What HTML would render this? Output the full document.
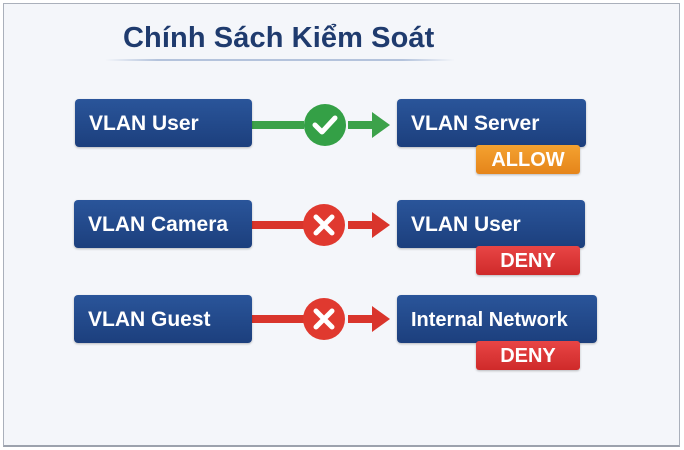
<!DOCTYPE html>
<html><head><meta charset="utf-8"><style>
body{margin:0;width:684px;height:450px;background:#fff;position:relative;overflow:hidden;font-family:"Liberation Sans",sans-serif}
.frame{position:absolute;left:3px;top:3px;width:675px;height:441px;border:1px solid #aab0bb;border-bottom:2px solid #9ca2ad;background:#f4f6fa}
.title{position:absolute;left:123px;top:22px;font-size:29px;font-weight:bold;color:#1f3b6e;letter-spacing:0.1px}
.ul{position:absolute;left:105px;top:59px;width:350px;height:2px;background:linear-gradient(90deg,rgba(180,195,220,0),#b4c3dc 15%,#b4c3dc 85%,rgba(180,195,220,0))}
.box{position:absolute;height:48px;border-radius:4px;background:linear-gradient(#2a559a,#1c3f7d);color:#fff;font-weight:bold;font-size:21px;line-height:50px;padding-left:14px;box-sizing:border-box;box-shadow:0 1px 2px rgba(0,0,0,.25)}
.badge{position:absolute;width:104px;height:29px;border-radius:3px;color:#fff;font-weight:bold;font-size:20px;line-height:30px;text-align:center;box-shadow:0 1px 2px rgba(0,0,0,.25)}
.allow{background:linear-gradient(#f4a230,#e5851a)}
.deny{background:linear-gradient(#e84545,#cf2a2a)}
svg{position:absolute;left:0;top:0}
</style></head><body>
<div class="frame"></div>
<div class="title">Chính Sách Kiểm Soát</div>
<div class="ul"></div>
<svg width="684" height="450">
 <g>
  <rect x="252" y="121" width="52" height="8" fill="#3ca24a"/>
  <rect x="348" y="121" width="25" height="8" fill="#3ca24a"/>
  <polygon points="372,112 390,125 372,138" fill="#3ca24a"/>
  <circle cx="325" cy="125" r="21" fill="#34a046"/>
  <polyline points="315,125 322,132 335,118" fill="none" stroke="#fff" stroke-width="5" stroke-linecap="round" stroke-linejoin="round"/>
 </g>
 <g>
  <rect x="252" y="221" width="52" height="8" fill="#d9352c"/>
  <rect x="348" y="221" width="25" height="8" fill="#d9352c"/>
  <polygon points="372,212 390,225 372,238" fill="#d9352c"/>
  <circle cx="324" cy="225" r="21" fill="#e0392f"/>
  <path d="M316,217 L332,233 M332,217 L316,233" stroke="#fff" stroke-width="5" stroke-linecap="round"/>
 </g>
 <g>
  <rect x="252" y="315" width="52" height="8" fill="#d9352c"/>
  <rect x="348" y="315" width="25" height="8" fill="#d9352c"/>
  <polygon points="372,306 390,319 372,332" fill="#d9352c"/>
  <circle cx="324" cy="319" r="21" fill="#e0392f"/>
  <path d="M316,311 L332,327 M332,311 L316,327" stroke="#fff" stroke-width="5" stroke-linecap="round"/>
 </g>
</svg>
<div class="box" style="left:75px;top:99px;width:177px">VLAN User</div>
<div class="box" style="left:397px;top:99px;width:189px">VLAN Server</div>
<div class="badge allow" style="left:476px;top:145px">ALLOW</div>
<div class="box" style="left:74px;top:200px;width:178px">VLAN Camera</div>
<div class="box" style="left:397px;top:200px;width:188px">VLAN User</div>
<div class="badge deny" style="left:476px;top:246px">DENY</div>
<div class="box" style="left:74px;top:295px;width:178px">VLAN Guest</div>
<div class="box" style="left:397px;top:295px;width:200px;font-size:20px">Internal Network</div>
<div class="badge deny" style="left:476px;top:341px">DENY</div>
</body></html>
